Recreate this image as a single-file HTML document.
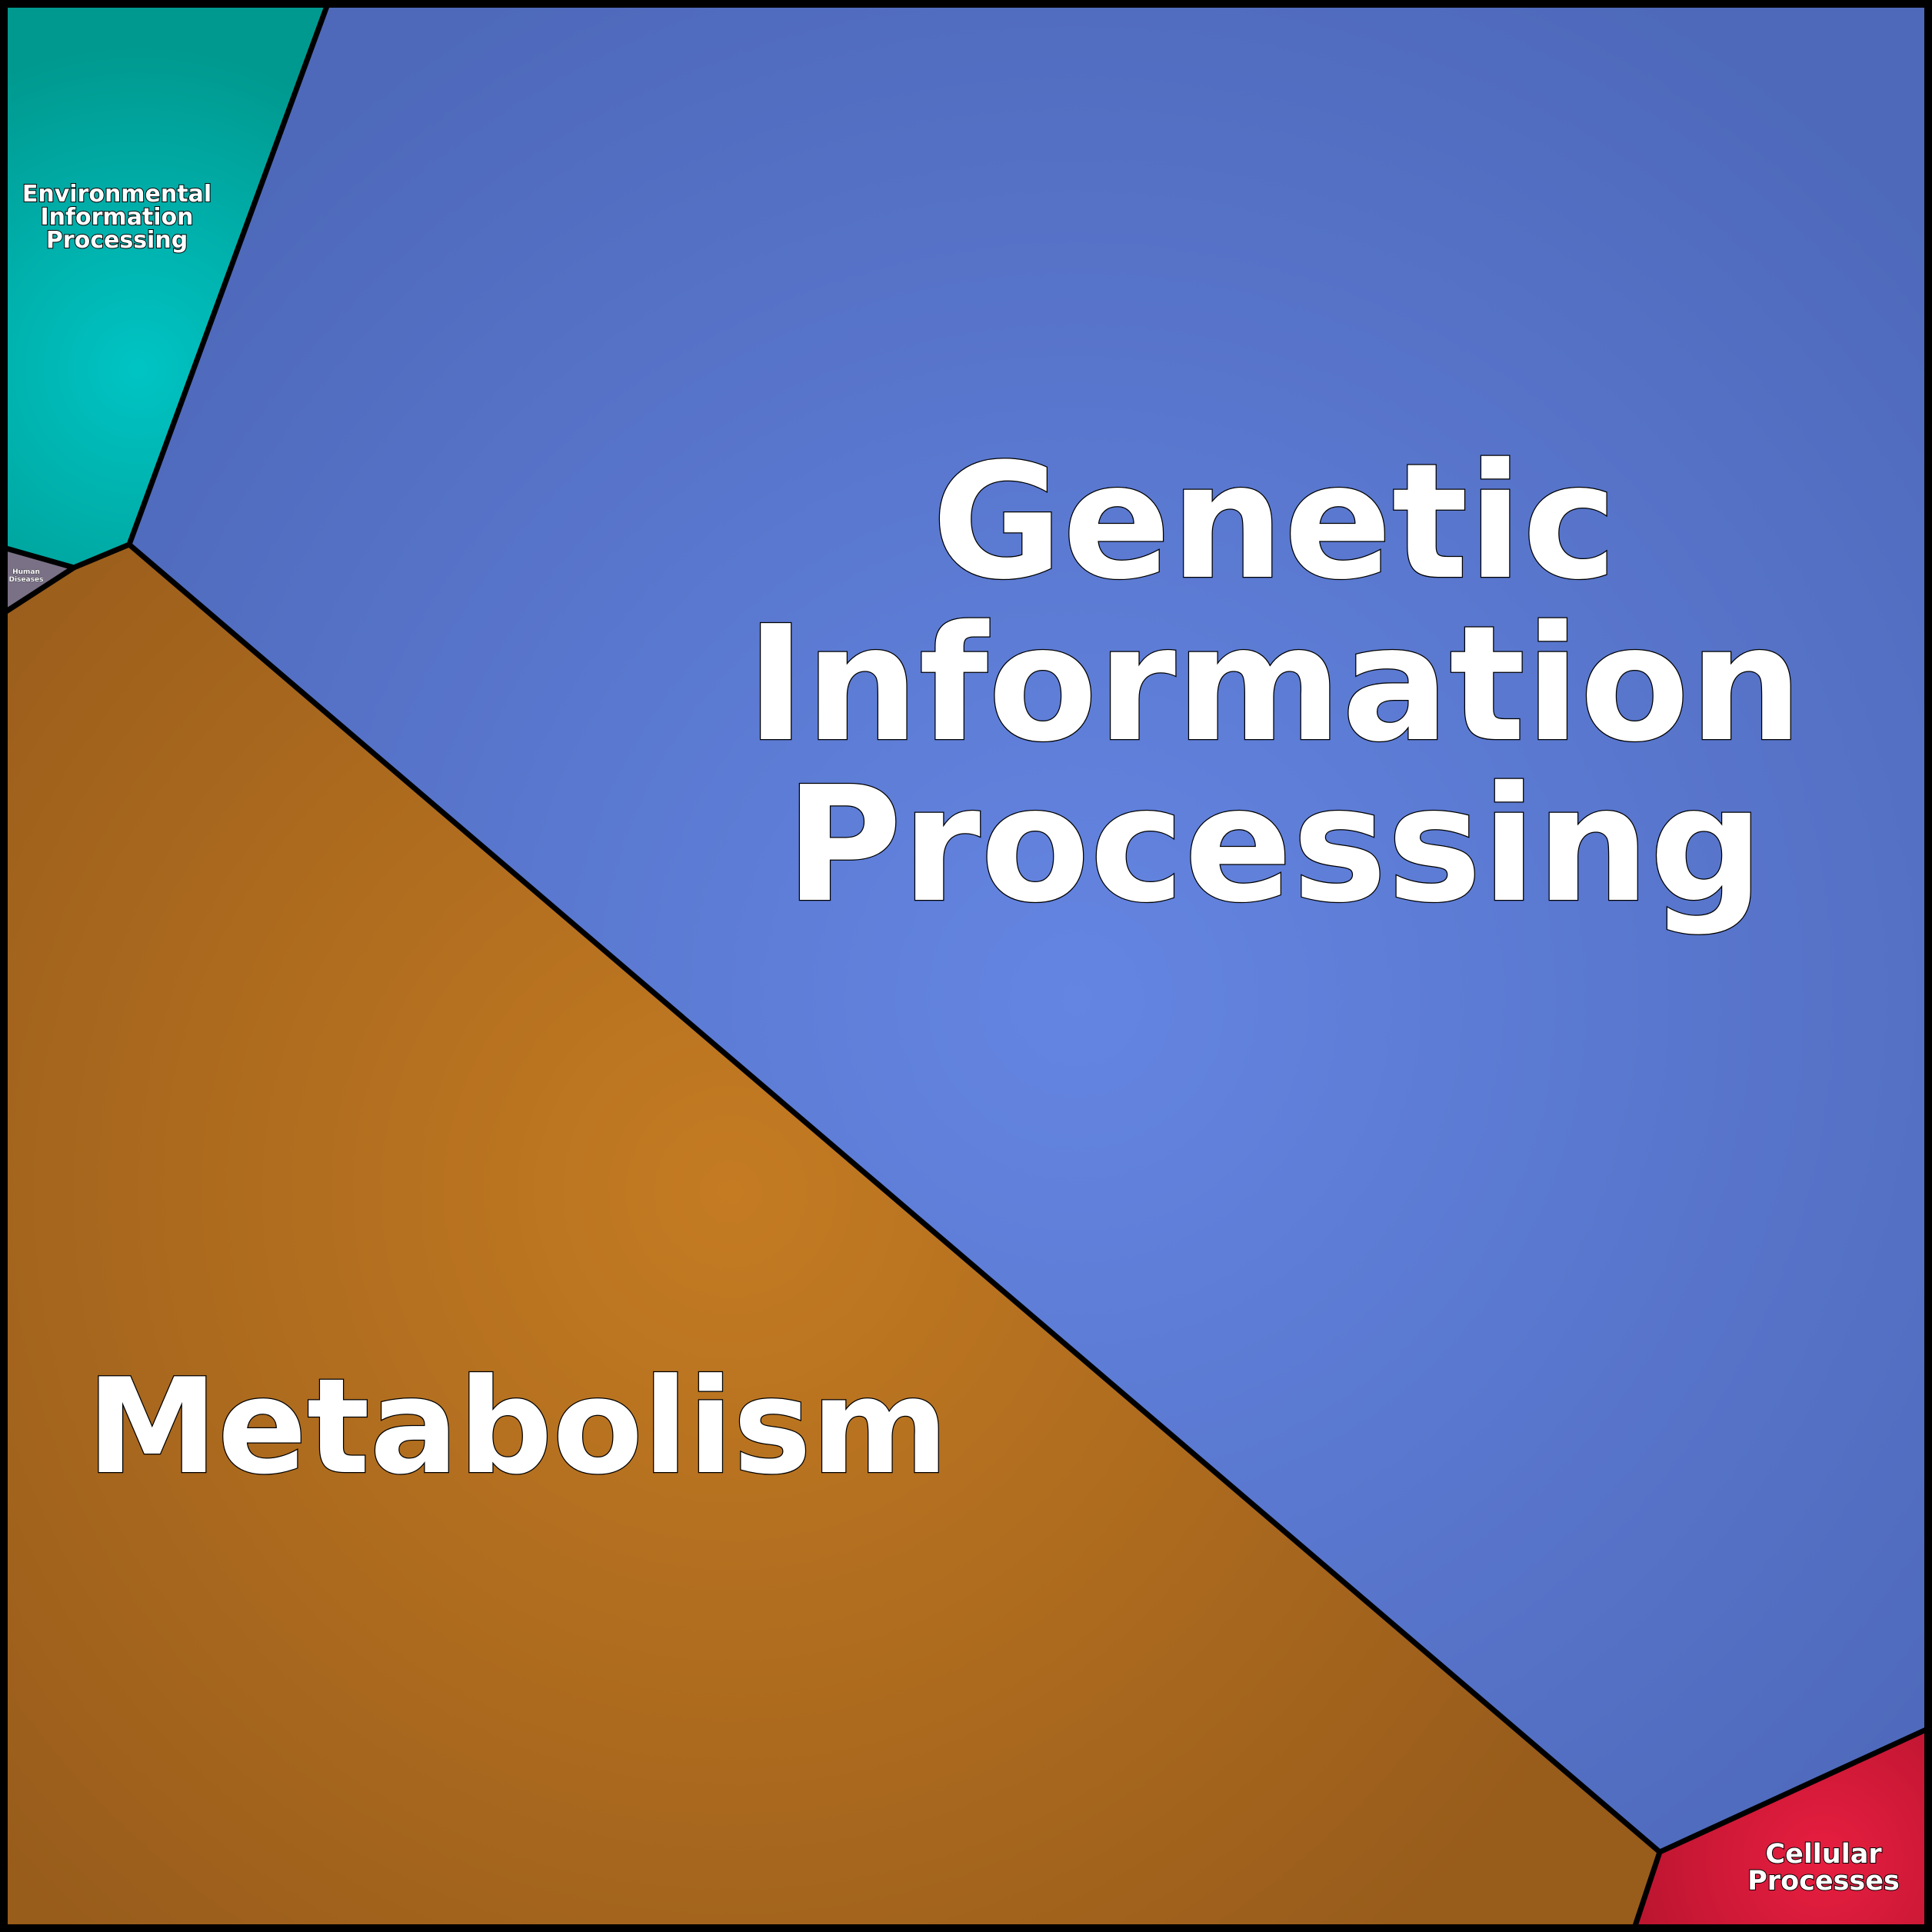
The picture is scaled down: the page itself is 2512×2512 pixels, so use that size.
<!DOCTYPE html>
<html><head><meta charset="utf-8"><style>html,body{margin:0;padding:0;background:#000}svg{display:block}</style></head>
<body>
<svg width="2512" height="2512" viewBox="0 0 2512 2512" xmlns="http://www.w3.org/2000/svg">
<defs>
<radialGradient id="gb" gradientUnits="userSpaceOnUse" cx="1400" cy="1300" r="1500"><stop offset="0" stop-color="#6485e2"/><stop offset="1" stop-color="#4e69ba"/></radialGradient>
<radialGradient id="gm" gradientUnits="userSpaceOnUse" cx="950" cy="1550" r="1300"><stop offset="0" stop-color="#c47b22"/><stop offset="1" stop-color="#985c1b"/></radialGradient>
<radialGradient id="ge" gradientUnits="userSpaceOnUse" cx="180" cy="480" r="420"><stop offset="0" stop-color="#00c4c4"/><stop offset="1" stop-color="#00998f"/></radialGradient>
<radialGradient id="gc" gradientUnits="userSpaceOnUse" cx="2370" cy="2420" r="250"><stop offset="0" stop-color="#e81e40"/><stop offset="1" stop-color="#bb1530"/></radialGradient>
</defs>
<rect width="2512" height="2512" fill="#000"/>
<polygon points="8,8 425,8 168,708 96,738 8,713" fill="url(#ge)"/>
<polygon points="425,8 2504,8 2504,2249 2158,2408 168,708" fill="url(#gb)"/>
<polygon points="8,713 96,738 8,795" fill="#7a7186"/>
<polygon points="8,795 96,738 168,708 2158,2408 2126,2504 8,2504" fill="url(#gm)"/>
<polygon points="2158,2408 2504,2249 2504,2504 2126,2504" fill="url(#gc)"/>
<g fill="none" stroke="#000" stroke-width="7" stroke-linejoin="round">
<polyline points="425,8 168,708 96,738 8,713"/>
<polyline points="96,738 8,795"/>
<polyline points="168,708 2158,2408 2504,2249"/>
<polyline points="2158,2408 2126,2504"/>
<rect x="5" y="5" width="2502" height="2502" stroke-width="10"/>
</g>
<g font-family="DejaVu Sans, Liberation Sans, sans-serif" font-weight="bold" fill="#fff" stroke="#000" paint-order="stroke" text-anchor="middle">
<g font-size="207" stroke-width="2.5">
<text x="1657" y="750">Genetic</text>
<text x="1657" y="961">Information</text>
<text x="1657" y="1170">Processing</text>
</g>
<text x="673" y="1914" font-size="171" stroke-width="2.5">Metabolism</text>
<g font-size="30" stroke-width="2">
<text x="152" y="262">Environmental</text>
<text x="152" y="292">Information</text>
<text x="152" y="322">Processing</text>
</g>
<g font-size="35" stroke-width="2">
<text x="2371" y="2422">Cellular</text>
<text x="2371" y="2457">Processes</text>
</g>
<g font-size="9" stroke-width="0.5">
<text x="34" y="746">Human</text>
<text x="34" y="756">Diseases</text>
</g>
</g>
</svg>
</body></html>
